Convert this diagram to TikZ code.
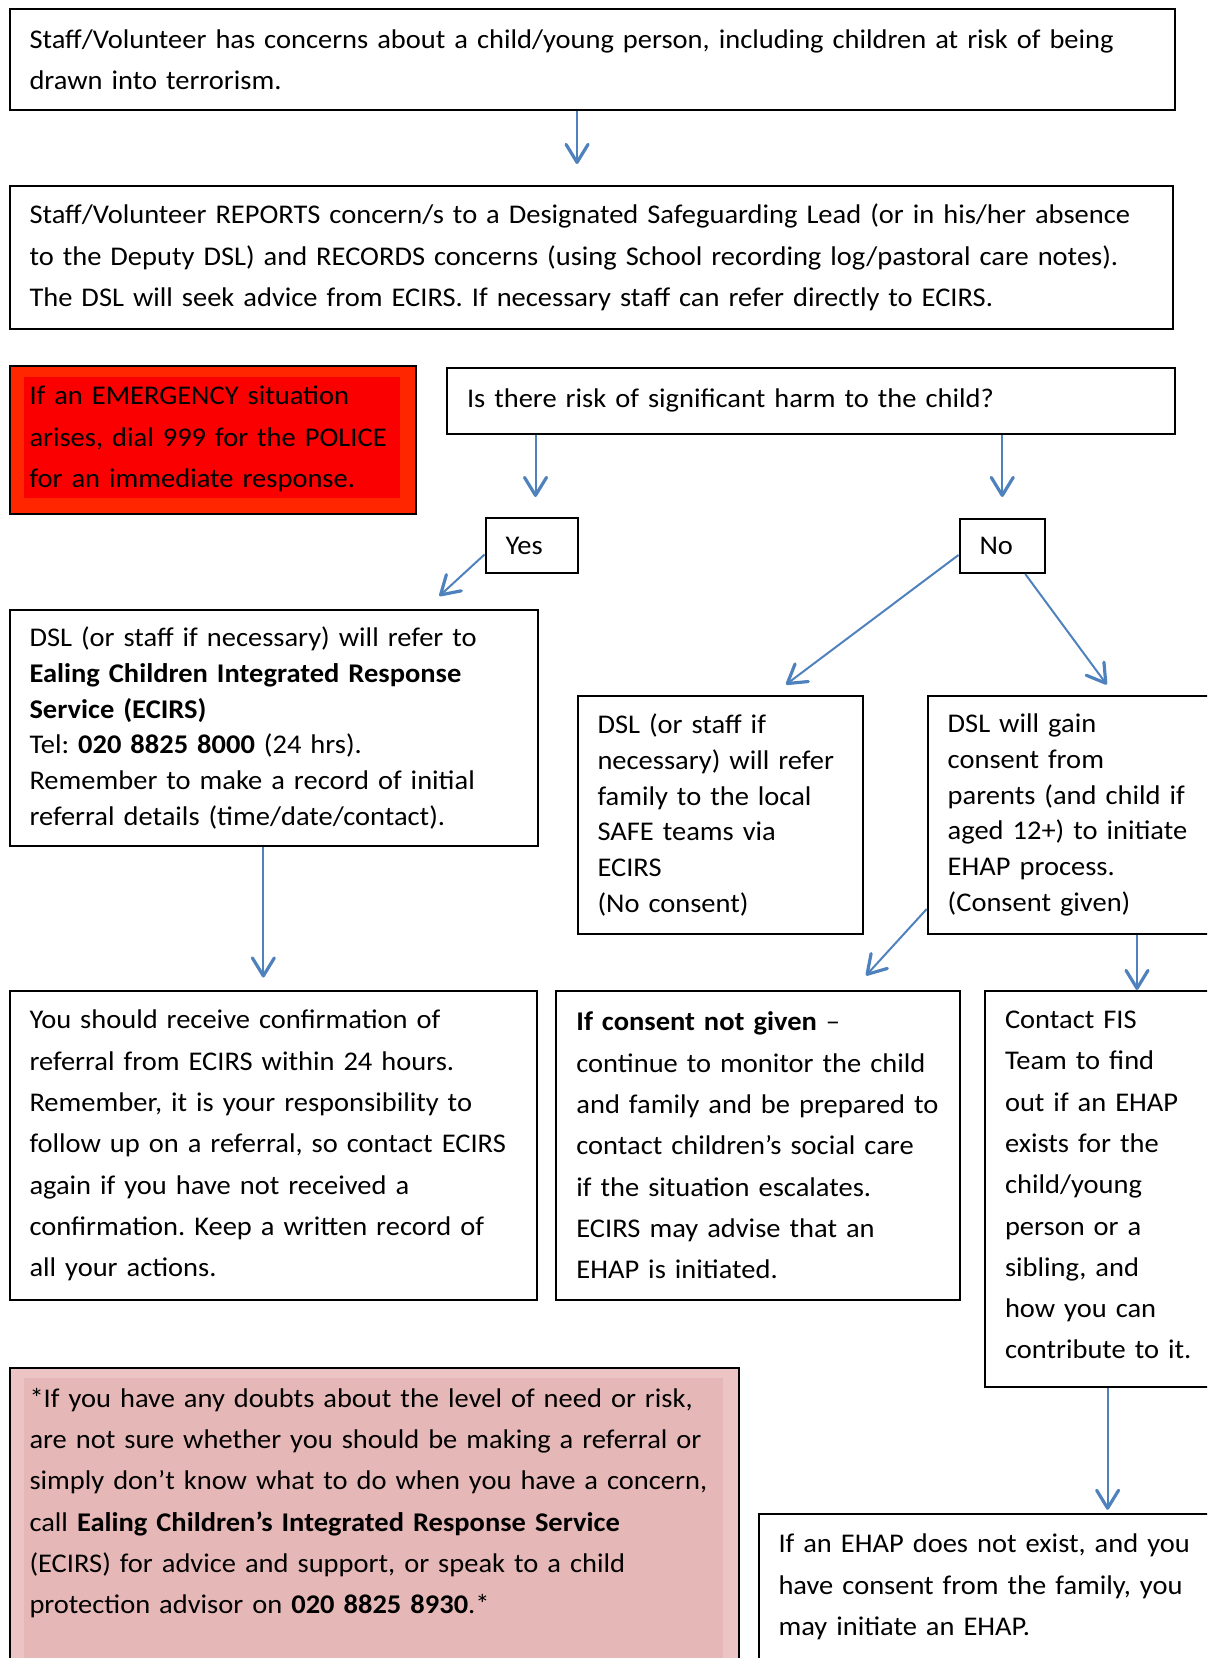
\documentclass[tikz,border=0pt]{standalone}
\usepackage{fontspec}
\setmainfont[FakeStretch=1.055]{Carlito}
\usetikzlibrary{arrows.meta}

\definecolor{arrowblue}{RGB}{79,129,189}
\definecolor{alarmout}{RGB}{255,38,0}
\definecolor{alarmin}{RGB}{250,0,0}
\definecolor{pinkout}{RGB}{236,196,196}
\definecolor{pinkin}{RGB}{229,184,183}

\frenchspacing

\begin{document}
\begin{tikzpicture}[x=0.5pt,y=-0.5pt,
    box/.style={draw=black, line width=1pt, anchor=north west, align=left,
      inner xsep=0pt, inner ysep=0pt,
      execute at begin node={\leftskip=10pt\relax},
      font=\fontsize{13.5}{20.65}\selectfont},
    tightbox/.style={box, font=\fontsize{13.5}{17.9}\selectfont},
    arr/.style={draw=arrowblue, line width=1pt,
      -{Straight Barb[length=9pt,width=11pt,line width=1.6pt,round]}}]

  \useasboundingbox (0,0) rectangle (1207,1658);
  \clip (0,0) rectangle (1207,1658);

  % Concern and report
  \node[box, text width=582.75pt, minimum height=50.25pt] (concern) at (8.5,8.5)
      {Staff/Volunteer has concerns about a child/young person, including children at risk of being\\
       drawn into terrorism.};
  \node[box, text width=581.75pt, minimum height=71.5pt] (report) at (8.5,185)
      {Staff/Volunteer REPORTS concern/s to a Designated Safeguarding Lead (or in his/her absence\\
       to the Deputy DSL) and RECORDS concerns (using School recording log/pastoral care notes).\\
       The DSL will seek advice from ECIRS. If necessary staff can refer directly to ECIRS.};

  % Emergency box
  \node[box, text width=203.25pt, minimum height=74pt, fill=alarmout,
      path picture={\fill[alarmin]
        ([shift={(14.5,10.5)}]path picture bounding box.north west) rectangle
        ([shift={(-16,-16)}]path picture bounding box.south east);},
      font=\fontsize{13.5}{20.8}\selectfont] (emergency) at (8.5,365)
      {If an EMERGENCY situation\\
       arises, dial 999 for the POLICE\\
       for an immediate response.\rule[-3pt]{0pt}{0pt}};

  % Question
  \node[box, text width=364pt, minimum height=33pt] (risk) at (446,367)
      {Is there risk of significant harm to the child?\rule[-3pt]{0pt}{0pt}};
  \node[box, text width=46pt, minimum height=27.5pt] (yes) at (484.5,517) {Yes};
  \node[box, text width=42.75pt, minimum height=27pt] (no) at (958.5,518) {No};

  % Yes branch
  \node[tightbox, text width=264.45pt, minimum height=118pt] (refer) at (8.5,609)
      {DSL (or staff if necessary) will refer to\\
       \textbf{Ealing Children Integrated Response}\\
       \textbf{Service (ECIRS)}\\
       Tel: \textbf{020 8825 8000} (24 hrs).\\
       Remember to make a record of initial\\
       referral details (time/date/contact).};
  \node[box, text width=263.75pt, minimum height=154.5pt] (confirm) at (8.5,990)
      {You should receive confirmation of\\
       referral from ECIRS within 24 hours.\\
       Remember, it is your responsibility to\\
       follow up on a referral, so contact ECIRS\\
       again if you have not received a\\
       confirmation. Keep a written record of\\
       all your actions.};

  % No branch
  \node[tightbox, text width=142.75pt, minimum height=119pt] (safe) at (576.5,695)
      {DSL (or staff if\\
       necessary) will refer\\
       family to the local\\
       SAFE teams via\\
       ECIRS\\
       (No consent)};
  \node[tightbox, text width=165pt, minimum height=119pt] (consent) at (926.7,695)
      {DSL will gain\\
       consent from\\
       parents (and child if\\
       aged 12+) to initiate\\
       EHAP process.\\
       (Consent given)};
  \node[box, text width=201.55pt, minimum height=154.5pt] (monitor) at (555.4,990)
      {\textbf{If consent not given} –\\
       continue to monitor the child\\
       and family and be prepared to\\
       contact children’s social care\\
       if the situation escalates.\\
       ECIRS may advise that an\\
       EHAP is initiated.};
  \node[box, text width=140pt, minimum height=198pt] (fis) at (984,990)
      {Contact FIS\\
       Team to find\\
       out if an EHAP\\
       exists for the\\
       child/young\\
       person or a\\
       sibling, and\\
       how you can\\
       contribute to it.\rule[-4pt]{0pt}{0pt}};
  \node[box, text width=250pt, inner ysep=10pt] (ehap) at (757.5,1513)
      {If an EHAP does not exist, and you\\
       have consent from the family, you\\
       may initiate an EHAP.\rule[-40pt]{0pt}{0pt}};

  % Advice box
  \node[box, text width=364.95pt, inner ysep=10pt, fill=pinkout,
      path picture={\fill[pinkin]
        ([shift={(14.5,10)}]path picture bounding box.north west) rectangle
        ([xshift=-8pt]path picture bounding box.east |- 0,1655.6);}] (advice) at (8.5,1367)
      {*If you have any doubts about the level of need or risk,\\
       are not sure whether you should be making a referral or\\
       simply don’t know what to do when you have a concern,\\
       call \textbf{Ealing Children’s Integrated Response Service}\\
       (ECIRS) for advice and support, or speak to a child\\
       protection advisor on \textbf{020 8825 8930}.*\rule[-40pt]{0pt}{0pt}};

  % Arrows
  \draw[arr, shorten >=10.5pt] ([xshift=-7.6pt]concern.south) -- ([xshift=-7.6pt]concern.south |- report.north);
  \draw[arr, shorten >=10pt] ([xshift=2pt]risk.south -| yes.north) -- ([xshift=2pt]yes.north);
  \draw[arr, shorten >=10.5pt] (risk.south -| no.north) -- (no.north);
  \draw[arr] ([yshift=-4.5pt]yes.west) -- ([shift={(-100,-13)}]refer.north east);
  \draw[arr] ([yshift=-4.5pt]no.west) -- ([shift={(-78,-10.5)}]safe.north west -| safe.north east);
  \draw[arr] ([xshift=11.5pt]no.south) -- ([shift={(180,-10.5)}]consent.north west);
  \draw[arr, shorten >=6.25pt] ([xshift=-5.3pt]refer.south) -- ([xshift=-5.3pt]refer.south |- confirm.north);
  \draw[arr] ([yshift=13pt]consent.south west) -- ([shift={(-94.5,-14.5)}]monitor.north east);
  \draw[arr] ([xshift=105.15pt]consent.south west) -- ([xshift=105.15pt]consent.south west |- fis.north);
  \draw[arr, shorten >=1.6pt] ([xshift=61.8pt]fis.south west) -- ([xshift=61.8pt]fis.south west |- ehap.north);

\end{tikzpicture}
\end{document}
